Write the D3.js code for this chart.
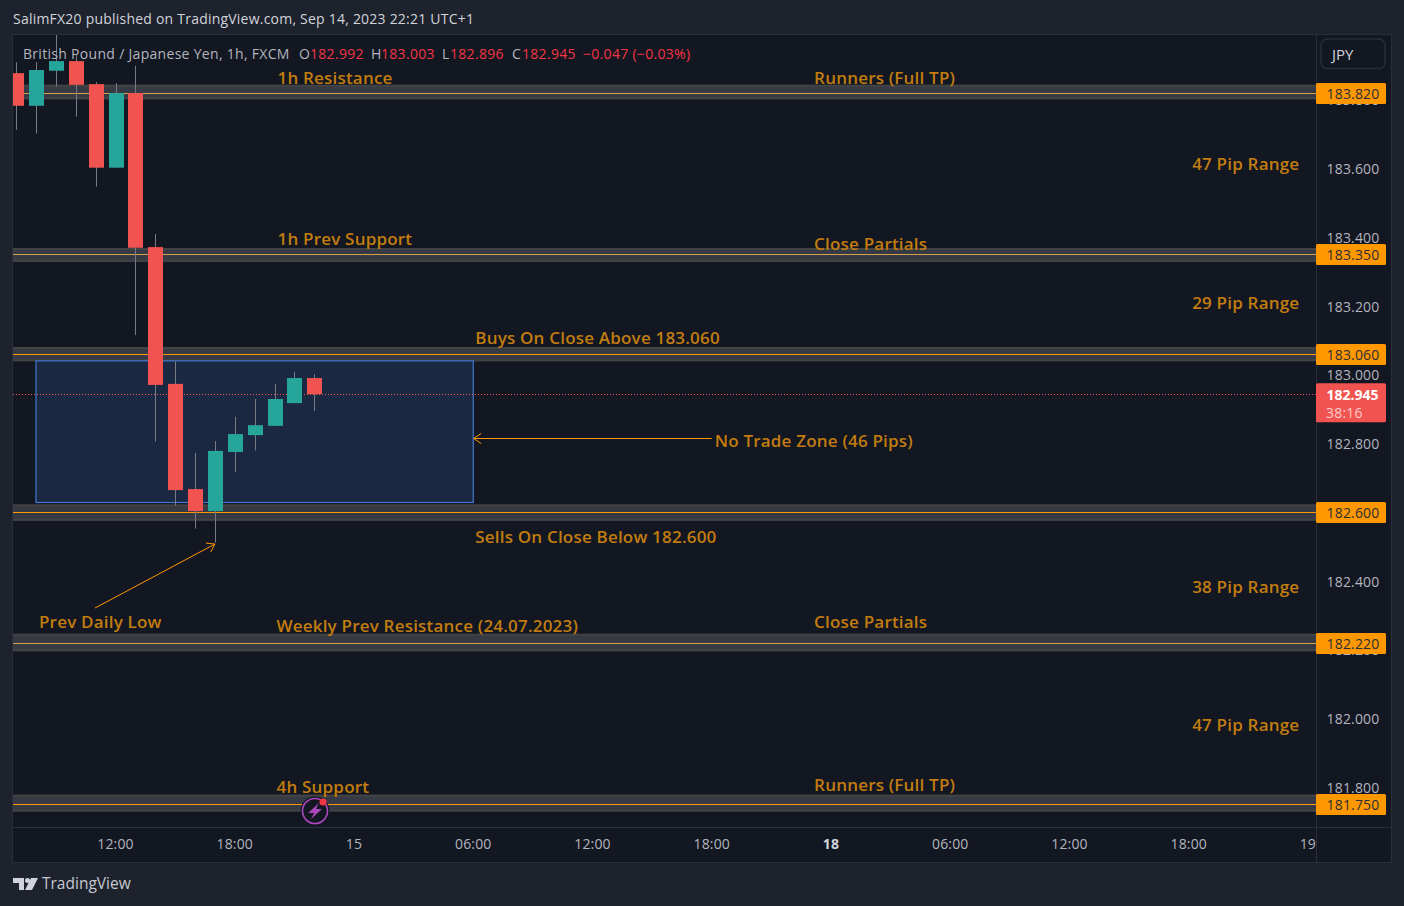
<!DOCTYPE html>
<html lang="en">
<head>
<meta charset="UTF-8">
<title>GBPJPY 1h</title>
<script src="https://d3js.org/d3.v7.min.js"></script>
<style>
    html, body { margin: 0; padding: 0; background: #1e222d; }
    svg { display: block; font-family: "Open Sans", Roboto, sans-serif; }
</style>
</head>
<body>
<svg id="chart" width="1404" height="906"></svg>
<script>
// bar number counted in hours from Sep 14 12:00
const barIndex = [-5, -4, -3, -2, -1, 0, 1, 2, 3, 4, 5, 6, 7, 8, 9, 10];
const opens  = [183.879, 183.784, 183.886, 183.914, 183.847, 183.604, 183.821, 183.373, 182.975, 182.669, 182.605, 182.777, 182.826, 182.853, 182.919, 182.992];
const highs  = [183.911, 183.911, 184.010, 183.932, 183.853, 183.850, 183.900, 183.411, 183.040, 182.774, 182.809, 182.879, 182.931, 182.975, 183.010, 183.003];
const lows   = [183.714, 183.703, 183.840, 183.752, 183.549, 183.604, 183.117, 182.807, 182.621, 182.554, 182.513, 182.719, 182.781, 182.853, 182.919, 182.896];
const closes = [183.784, 183.888, 183.914, 183.845, 183.604, 183.821, 183.371, 182.972, 182.666, 182.605, 182.780, 182.829, 182.855, 182.931, 182.992, 182.945];

const priceTicks = [183.8, 183.6, 183.4, 183.2, 183.0, 182.8, 182.4, 182.2, 182.0, 181.8];
const timeTicks = [0, 6, 12, 18, 24, 30, 36, 42, 48, 54, 60];
const timeLabels = ['12:00', '18:00', '15', '06:00', '12:00', '18:00', '18', '06:00', '12:00', '18:00', '19'];

const levels = [183.82, 183.35, 183.06, 182.6, 182.22, 181.75];
const levelTop = [183.845, 183.370, 183.082, 182.624, 182.248, 181.78];
const levelBottom = [183.803, 183.330, 183.041, 182.577, 182.197, 181.731];
const levelLine = ['#d8a04a', '#d8a04a', '#ff9800', '#ff9800', '#d8a04a', '#ff9800'];

const lastPrice = 182.945;
const countdown = '38:16';
const zoneTop = 183.042, zoneBottom = 182.63;

// label: text, bar position, price at baseline
const noteText = ['1h Resistance', 'Runners (Full TP)', '47 Pip Range', '1h Prev Support', 'Close Partials', '29 Pip Range',
    'Buys On Close Above 183.060', 'No Trade Zone (46 Pips)', 'Sells On Close Below 182.600', '38 Pip Range', 'Prev Daily Low',
    'Weekly Prev Resistance (24.07.2023)', 'Close Partials', '47 Pip Range', '4h Support', 'Runners (Full TP)'];
const noteBar = [8.15, 35.15, 54.17, 8.15, 35.15, 54.17, 18.1, 30.15, 18.1, 54.17, -3.85, 8.1, 35.15, 54.17, 8.1, 35.15];
const notePrice = [183.847, 183.847, 183.597, 183.379, 183.364, 183.193, 183.091, 182.791, 182.512, 182.367, 182.265, 182.253, 182.265, 181.965, 181.785, 181.791];

const ink = '#b2b5be', amber = '#c27d0e', red = '#f05350', green = '#26a69a';

const plot = { left: 13, right: 1316, top: 35, bottom: 827 };
const x = d3.scaleLinear().domain([0, 60]).range([115.5, 1308]);
const y = d3.scaleLinear().domain([183, 182]).range([375.3, 719.05]);

const svg = d3.select('#chart');

svg.append('rect').attr('x', 12.5).attr('y', 34.5).attr('width', 1379).attr('height', 828)
    .attr('fill', '#131722').attr('stroke', '#2a2e39');
svg.append('line').attr('x1', plot.right + .5).attr('x2', plot.right + .5).attr('y1', 35).attr('y2', 862).attr('stroke', '#2a2e39');
svg.append('line').attr('x1', 13).attr('x2', 1391).attr('y1', plot.bottom + .5).attr('y2', plot.bottom + .5).attr('stroke', '#2a2e39');

svg.append('defs').append('clipPath').attr('id', 'pane')
    .append('rect').attr('x', plot.left).attr('y', plot.top)
    .attr('width', plot.right - plot.left).attr('height', plot.bottom - plot.top);
const pane = svg.append('g').attr('clip-path', 'url(#pane)');

// grey level bands with their centre line
levels.forEach((lv, i) => {
    const top = y(levelTop[i]), bottom = y(levelBottom[i]);
    pane.append('rect').attr('x', plot.left).attr('width', plot.right - plot.left)
        .attr('y', top).attr('height', bottom - top)
        .attr('fill', '#363a45');
    [top + 1, bottom - 1].forEach(p => {
        pane.append('line').attr('x1', plot.left).attr('x2', plot.right)
            .attr('y1', p).attr('y2', p).attr('stroke', '#434343').attr('stroke-width', 2);
    });
});

// no trade zone
pane.append('rect').attr('x', x(-4) + 0).attr('width', x(18) - x(-4))
    .attr('y', y(zoneTop)).attr('height', y(zoneBottom) - y(zoneTop))
    .attr('fill', '#1b2841').attr('stroke', '#4178d0').attr('stroke-width', 1.2);

levels.forEach((lv, i) => {
    pane.append('line').attr('x1', plot.left).attr('x2', plot.right)
        .attr('y1', Math.floor(y(lv)) + .5).attr('y2', Math.floor(y(lv)) + .5)
        .attr('stroke', levelLine[i]);
});

// last price line
pane.append('line').attr('x1', plot.left).attr('x2', plot.right)
    .attr('y1', Math.floor(y(lastPrice)) + .5).attr('y2', Math.floor(y(lastPrice)) + .5)
    .attr('stroke', red).attr('stroke-dasharray', '1 2');

// candles
const candles = pane.selectAll('.candle').data(barIndex).enter().append('g').attr('class', 'candle');
candles.append('line')
    .attr('x1', d => Math.round(x(d)) + .5).attr('x2', d => Math.round(x(d)) + .5)
    .attr('y1', (d, i) => y(highs[i])).attr('y2', (d, i) => y(lows[i]))
    .attr('stroke', '#787b86');
candles.append('rect')
    .attr('x', d => Math.round(x(d)) - 7).attr('width', 15)
    .attr('y', (d, i) => y(Math.max(opens[i], closes[i])))
    .attr('height', (d, i) => Math.abs(y(opens[i]) - y(closes[i])))
    .attr('fill', (d, i) => closes[i] >= opens[i] ? green : red);

// arrows
const arrow = (x1, y1, x2, y2) => {
    pane.append('line').attr('x1', x1).attr('y1', y1).attr('x2', x2).attr('y2', y2).attr('stroke', '#ff9800');
    const a = Math.atan2(y2 - y1, x2 - x1), h = 9;
    [a + 0.6, a - 0.6].forEach(t => {
        pane.append('line').attr('x1', x2).attr('y1', y2)
            .attr('x2', x2 - h * Math.cos(t)).attr('y2', y2 - h * Math.sin(t)).attr('stroke', '#ff9800');
    });
};
arrow(x(30), Math.round(y(182.818)) + .5, x(18) + 0.5, Math.round(y(182.818)) + .5);
arrow(x(-1.03), y(182.323), x(5), y(182.509));

// notes
pane.selectAll('.note').data(noteText).enter().append('text').attr('class', 'note')
    .attr('x', (d, i) => x(noteBar[i])).attr('y', (d, i) => y(notePrice[i]))
    .attr('fill', amber).attr('font-size', 17).attr('font-weight', 600).attr('letter-spacing', .2)
    .text(d => d);

// alert icon
const icon = svg.append('g').attr('transform', 'translate(315,811)');
icon.append('circle').attr('r', 14.5).attr('fill', '#131722');
icon.append('circle').attr('r', 12.5).attr('fill', 'none').attr('stroke', '#ab47bc').attr('stroke-width', 1.6);
icon.append('path').attr('d', 'M4,-8 L-7,2 L-1,2 L-4,8 L7,-2 L1,-2 Z').attr('fill', '#ab47bc');
icon.append('circle').attr('cx', 8).attr('cy', -9).attr('r', 3.6).attr('fill', '#f23645');

// price axis
const priceAxis = svg.append('g').attr('font-size', 14).attr('fill', ink).attr('letter-spacing', .15);
priceAxis.selectAll('text').data(priceTicks).enter().append('text')
    .attr('x', 1353).attr('y', d => y(d) + 5).attr('text-anchor', 'middle').text(d => d.toFixed(3));

levels.forEach(lv => {
    const tag = svg.append('g');
    tag.append('rect').attr('x', 1316).attr('width', 70).attr('y', Math.floor(y(lv)) - 10).attr('height', 21).attr('rx', 1.5).attr('fill', '#ff9800');
    tag.append('text').attr('x', 1353).attr('y', Math.floor(y(lv)) + 6).attr('text-anchor', 'middle').attr('letter-spacing', .15)
        .attr('font-size', 14).attr('fill', '#2a2e39').text(lv.toFixed(3));
});

svg.append('rect').attr('x', 1316).attr('width', 70).attr('y', y(lastPrice) - 11).attr('height', 39).attr('rx', 1.5).attr('fill', red);
svg.append('text').attr('x', 1352.5).attr('y', y(lastPrice) + 5.5).attr('text-anchor', 'middle')
    .attr('font-size', 14).attr('font-weight', 700).attr('fill', '#fff').text(lastPrice.toFixed(3));
svg.append('text').attr('x', 1326).attr('y', y(lastPrice) + 23.5).attr('letter-spacing', .2)
    .attr('font-size', 14).attr('fill', '#fccbcd').text(countdown);

// time axis
svg.selectAll('.tick-t').data(timeTicks).enter().append('text').attr('class', 'tick-t')
    .attr('x', d => x(d)).attr('y', 849).attr('text-anchor', (d, i) => i === 10 ? 'end' : 'middle')
    .attr('dx', (d, i) => i === 10 ? 8 : 0).attr('letter-spacing', .15)
    .attr('font-size', 14).attr('fill', (d, i) => i === 6 ? '#d1d4dc' : ink)
    .attr('font-weight', (d, i) => i === 6 ? 700 : 400)
    .text((d, i) => timeLabels[i]);

// header and legend
svg.append('text').attr('x', 13).attr('y', 24).attr('font-size', 14).attr('fill', '#d1d4dc').attr('letter-spacing', .22)
    .text('SalimFX20 published on TradingView.com, Sep 14, 2023 22:21 UTC+1');

const legendText = ['British Pound / Japanese Yen, 1h, FXCM', 'O', '182.992', 'H', '183.003', 'L', '182.896', 'C', '182.945', '−0.047 (−0.03%)'];
const legendX = [23, 299, 310, 371, 381, 442, 450, 512, 522, 583];
const legend = svg.append('text').attr('y', 59).attr('font-size', 14).attr('letter-spacing', .3);
legendText.forEach((d, i) => legend.append('tspan').attr('x', legendX[i])
    .attr('fill', (i < 2 || (i > 2 && i < 8 && i % 2 === 1)) ? ink : '#f23645').text(d));

// currency button
svg.append('rect').attr('x', 1321).attr('y', 39).attr('width', 64).attr('height', 29.5).attr('rx', 6)
    .attr('fill', 'none').attr('stroke', '#2a2e39').attr('stroke-width', 1.5);
svg.append('text').attr('x', 1332).attr('y', 60).attr('font-size', 15).attr('fill', '#d1d4dc').text('JPY');

// footer logo
const logo = svg.append('g').attr('transform', 'translate(13,878)').attr('fill', '#d1d4dc');
logo.append('path').attr('d', 'M0,0 H11 V12 H6 V5 H0 Z');
logo.append('circle').attr('cx', 14.5).attr('cy', 2.5).attr('r', 2.5);
logo.append('path').attr('d', 'M18,0 H25 L19,12 H12 Z');
svg.append('text').attr('x', 42).attr('y', 889).attr('font-size', 15.5).attr('fill', '#c5c8d0').text('TradingView');
</script>
</body>
</html>
